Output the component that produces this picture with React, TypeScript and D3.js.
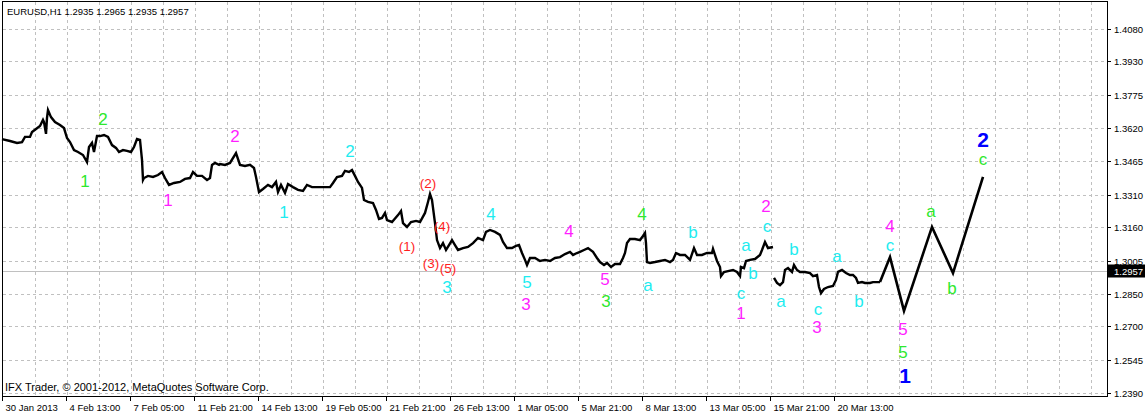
import React from "react";
import * as d3 from "d3";

// ---------- DATA ----------
const symbolTitle = "EURUSD,H1  1.2935 1.2965 1.2935 1.2957";
const copyright = "IFX Trader, \u00A9 2001-2012, MetaQuotes Software Corp.";
const lastPrice = 1.2957;

const priceTicks = [1.408, 1.393, 1.3775, 1.362, 1.3465, 1.331, 1.316, 1.3005, 1.285, 1.27, 1.2545, 1.239];

const timeLabels = [
  "30 Jan 2013", "4 Feb 13:00", "7 Feb 05:00", "11 Feb 21:00", "14 Feb 13:00",
  "19 Feb 05:00", "21 Feb 21:00", "26 Feb 13:00", "1 Mar 05:00", "5 Mar 21:00",
  "8 Mar 13:00", "13 Mar 05:00", "15 Mar 21:00", "20 Mar 13:00",
];
const barsPerLabel = 64;
const totalBars = 1105;

// hourly history (bar index, price), before the 15 Mar weekend gap
const barsA = [0, 8, 15, 20, 23, 28, 30, 34, 38, 41, 42, 44, 45, 46, 49, 53, 58, 62, 65, 68, 72, 76, 81, 85, 87, 90, 92, 95, 98, 102, 106, 110, 114, 117, 121, 125, 129, 132, 135, 138, 140, 141, 142, 146, 151, 156, 160, 163, 167, 172, 178, 183, 188, 191, 195, 200, 205, 208, 210, 213, 217, 218, 223, 228, 234, 238, 243, 248, 252, 254, 257, 261, 266, 270, 274, 276, 279, 283, 286, 291, 296, 301, 305, 310, 316, 323, 328, 331, 335, 340, 343, 347, 350, 353, 356, 360, 362, 366, 371, 374, 377, 380, 383, 385, 390, 396, 399, 401, 405, 409, 414, 418, 423, 426, 428, 430, 433, 435, 438, 441, 444, 447, 450, 453, 456, 461, 466, 471, 476, 481, 484, 488, 493, 498, 501, 505, 510, 514, 517, 520, 523, 525, 528, 533, 538, 543, 548, 553, 558, 563, 568, 571, 575, 578, 582, 586, 591, 595, 598, 602, 605, 609, 613, 618, 621, 623, 625, 628, 633, 638, 641, 643, 644, 645, 648, 653, 658, 663, 668, 671, 674, 678, 683, 688, 692, 695, 700, 705, 710, 711, 715, 718, 719, 722, 726, 731, 735, 738, 739, 742, 744, 748, 753, 758, 760, 763, 766, 771];
const pricesA = [1.3569, 1.356, 1.3551, 1.3555, 1.3579, 1.3579, 1.3602, 1.3616, 1.363, 1.3658, 1.3648, 1.3593, 1.3667, 1.3704, 1.3671, 1.3648, 1.3634, 1.362, 1.3574, 1.3555, 1.3518, 1.3509, 1.3495, 1.3462, 1.3532, 1.3551, 1.3509, 1.3583, 1.3583, 1.3588, 1.3579, 1.3541, 1.3528, 1.3509, 1.3518, 1.3514, 1.3509, 1.3532, 1.3569, 1.3565, 1.3472, 1.3379, 1.3388, 1.3398, 1.3393, 1.3402, 1.3416, 1.3388, 1.3356, 1.3365, 1.337, 1.3384, 1.3388, 1.3416, 1.3398, 1.3398, 1.3379, 1.3388, 1.3449, 1.3458, 1.3449, 1.3453, 1.3449, 1.3458, 1.3504, 1.3449, 1.3444, 1.3449, 1.3435, 1.3393, 1.3323, 1.3337, 1.3356, 1.3346, 1.337, 1.3323, 1.3356, 1.3319, 1.336, 1.3346, 1.3333, 1.3328, 1.3356, 1.3346, 1.3346, 1.3346, 1.3346, 1.3365, 1.3393, 1.3398, 1.3421, 1.3416, 1.3425, 1.3398, 1.337, 1.3342, 1.3286, 1.3277, 1.3272, 1.324, 1.3198, 1.3203, 1.3226, 1.3193, 1.3184, 1.3216, 1.3235, 1.3179, 1.3161, 1.3184, 1.3189, 1.3184, 1.3226, 1.3277, 1.3314, 1.3286, 1.3179, 1.31, 1.3063, 1.3086, 1.3054, 1.3077, 1.31, 1.3077, 1.3054, 1.3063, 1.3068, 1.3086, 1.311, 1.31, 1.3138, 1.3147, 1.3138, 1.3124, 1.3091, 1.3063, 1.3063, 1.3073, 1.3077, 1.304, 1.3008, 1.2984, 1.3017, 1.3017, 1.3003, 1.3008, 1.3003, 1.3017, 1.3021, 1.3035, 1.3045, 1.3031, 1.304, 1.3045, 1.3054, 1.3063, 1.3045, 1.3017, 1.2998, 1.2984, 1.2994, 1.2975, 1.2989, 1.2989, 1.3017, 1.304, 1.3086, 1.3105, 1.3105, 1.31, 1.3119, 1.3133, 1.3086, 1.2998, 1.2994, 1.2998, 1.3003, 1.3008, 1.2998, 1.3008, 1.304, 1.3031, 1.3031, 1.3008, 1.3063, 1.3031, 1.3031, 1.304, 1.304, 1.3059, 1.3003, 1.2975, 1.2933, 1.2952, 1.2956, 1.2961, 1.2952, 1.2933, 1.2975, 1.297, 1.3003, 1.3008, 1.3012, 1.3031, 1.3054, 1.3091, 1.3063, 1.3068];

// hourly history after the weekend gap
const barsB = [772, 775, 778, 781, 783, 786, 790, 792, 795, 798, 803, 808, 811, 815, 817, 819, 822, 826, 831, 834, 836, 840, 844, 848, 851, 854, 856, 860, 863, 868, 871, 874, 878];
const pricesB = [1.2924, 1.2901, 1.2891, 1.2905, 1.2961, 1.297, 1.2952, 1.2984, 1.2961, 1.2952, 1.2952, 1.2947, 1.2933, 1.2938, 1.2882, 1.2854, 1.2873, 1.2882, 1.2887, 1.2915, 1.2952, 1.2961, 1.2947, 1.2938, 1.2938, 1.2924, 1.2901, 1.2905, 1.2901, 1.2901, 1.2905, 1.2905, 1.2905];

// projected wave path
const projBars = [878, 888, 902, 930, 951, 981];
const projPrices = [1.2905, 1.3021, 1.2771, 1.3161, 1.2947, 1.3393];

// wave labels
const labelText = ["1", "2", "1", "2", "1", "2", "(2)", "(1)", "(4)", "(3)", "(5)", "3", "4", "5", "3", "4", "5", "3", "4", "a", "b", "a", "b", "c", "1", "2", "c", "a", "b", "a", "c", "3", "b", "4", "c", "5", "5", "1", "a", "b", "c", "2"];
const labelBar = [83, 101, 166, 233, 282, 348, 426, 405, 440, 429, 446, 445, 489, 525, 524, 567, 603, 604, 640, 646, 691, 744, 751, 739, 739, 764, 765, 779, 792, 835, 816, 815, 857, 888, 888, 901, 901, 903, 929, 950, 981, 981];
const labelPrice = [1.3374, 1.3658, 1.3286, 1.3583, 1.3226, 1.3509, 1.3365, 1.3068, 1.3161, 1.2989, 1.297, 1.2882, 1.3221, 1.2901, 1.2803, 1.3142, 1.2915, 1.2813, 1.3221, 1.2891, 1.3133, 1.3077, 1.2943, 1.285, 1.2761, 1.3254, 1.3161, 1.2817, 1.3054, 1.3026, 1.278, 1.2692, 1.2813, 1.3161, 1.3073, 1.2687, 1.258, 1.2469, 1.3235, 1.2873, 1.3472, 1.3565];
const labelDegree = ["g", "g", "m", "m", "c", "c", "r", "r", "r", "r", "r", "c", "c", "c", "m", "m", "m", "g", "g", "c", "c", "c", "c", "c", "m", "m", "c", "c", "c", "c", "c", "m", "c", "m", "c", "m", "g", "b", "g", "g", "g", "b"];

const degreeColor: Record<string, string> = {
  g: "#2ee82e",
  m: "#ff1eff",
  c: "#1eecf0",
  r: "#ff1e1e",
  b: "#0000ff",
};

// ---------- LAYOUT ----------
const W = 1145;
const H = 413;
const plotLeft = 2;
const plotRight = 1107;
const plotTop = 1;
const plotBottom = 396;
const axisFont = "'Liberation Sans', Arial, sans-serif";

export default function App() {
  const x = d3.scaleLinear().domain([0, totalBars]).range([plotLeft, plotRight]);
  const y = d3.scaleLinear().domain([1.239, 1.408]).range([393, 29]);

  const line = d3
    .line<[number, number]>()
    .x((d) => x(d[0]))
    .y((d) => y(d[1]));

  const segA: [number, number][] = barsA.map((b, i) => [b, pricesA[i]]);
  const segB: [number, number][] = barsB.map((b, i) => [b, pricesB[i]]);
  const proj: [number, number][] = projBars.map((b, i) => [b, projPrices[i]]);

  const vGrid = d3.range(32, totalBars, 32).map((b) => Math.round(x(b)) + 1.5);
  const timeTicks = timeLabels.map((t, i) => ({ t, px: Math.round(x(i * barsPerLabel)) + 0.5 }));
  const lastY = Math.round(y(lastPrice)) + 0.5;

  return (
    <svg
      width={W}
      height={H}
      style={{ position: "fixed", left: 0, top: 0, background: "#fff" }}
      fontFamily={axisFont}
    >
      <rect x={0} y={0} width={W} height={H} fill="#fff" />
      {/* grid */}
      <g stroke="#c0c0c0" strokeWidth={1} strokeDasharray="3,3">
        {vGrid.map((gx, i) => (
          <line key={"v" + i} x1={gx} x2={gx} y1={plotTop + 1} y2={plotBottom} />
        ))}
        {priceTicks.map((p, i) => {
          const gy = Math.round(y(p)) + 0.5;
          return <line key={"h" + i} x1={plotLeft + 1} x2={plotRight} y1={gy} y2={gy} />;
        })}
      </g>
      {/* last price line */}
      <line x1={plotLeft + 1} x2={plotRight} y1={lastY} y2={lastY} stroke="#c0c0c0" strokeWidth={1} />

      {/* price series */}
      <path d={line(segA) || ""} fill="none" stroke="#000" strokeWidth={2.4} strokeLinejoin="miter" />
      <path d={line(segB) || ""} fill="none" stroke="#000" strokeWidth={2.4} strokeLinejoin="miter" />
      <path d={line(proj) || ""} fill="none" stroke="#000" strokeWidth={2.6} />

      {/* wave labels */}
      {labelText.map((t, i) => {
        const deg = labelDegree[i];
        const size = deg === "b" ? 21 : deg === "r" ? 13.5 : 17;
        return (
          <text
            key={"l" + i}
            x={x(labelBar[i])}
            y={y(labelPrice[i])}
            textAnchor="middle"
            dominantBaseline="central"
            fill={degreeColor[deg]}
            fontSize={size}
            fontWeight={deg === "b" ? "bold" : "normal"}
            fontFamily="'Liberation Sans', Arial, sans-serif"
          >
            {t}
          </text>
        );
      })}

      {/* frame */}
      <rect
        x={plotLeft + 0.5}
        y={plotTop + 0.5}
        width={plotRight - plotLeft}
        height={plotBottom - plotTop}
        fill="none"
        stroke="#000"
        strokeWidth={1}
      />

      {/* price axis */}
      {priceTicks.map((p, i) => {
        const gy = Math.round(y(p)) + 0.5;
        return (
          <g key={"pt" + i}>
            <line x1={plotRight} x2={plotRight + 4} y1={gy} y2={gy} stroke="#000" />
            <text x={plotRight + 7} y={gy} dominantBaseline="central" fontSize={9.5} fill="#000">
              {p.toFixed(4)}
            </text>
          </g>
        );
      })}
      <rect x={plotRight + 1} y={lastY - 7} width={W - plotRight - 1} height={13} fill="#000" />
      <text x={plotRight + 7} y={lastY} dominantBaseline="central" fontSize={9.5} fill="#fff">
        {lastPrice.toFixed(4)}
      </text>

      {/* time axis */}
      {timeTicks.map((d, i) => (
        <g key={"tt" + i}>
          <line x1={d.px} x2={d.px} y1={plotBottom} y2={plotBottom + 5} stroke="#000" />
          <text x={d.px + 3} y={plotBottom + 11} dominantBaseline="central" fontSize={9.5} fill="#000">
            {d.t}
          </text>
        </g>
      ))}

      {/* title and copyright */}
      <text x={7} y={11} dominantBaseline="central" fontSize={9.5} fill="#000">
        {symbolTitle}
      </text>
      <text x={5} y={387} dominantBaseline="central" fontSize={11} fill="#000">
        {copyright}
      </text>
    </svg>
  );
}
